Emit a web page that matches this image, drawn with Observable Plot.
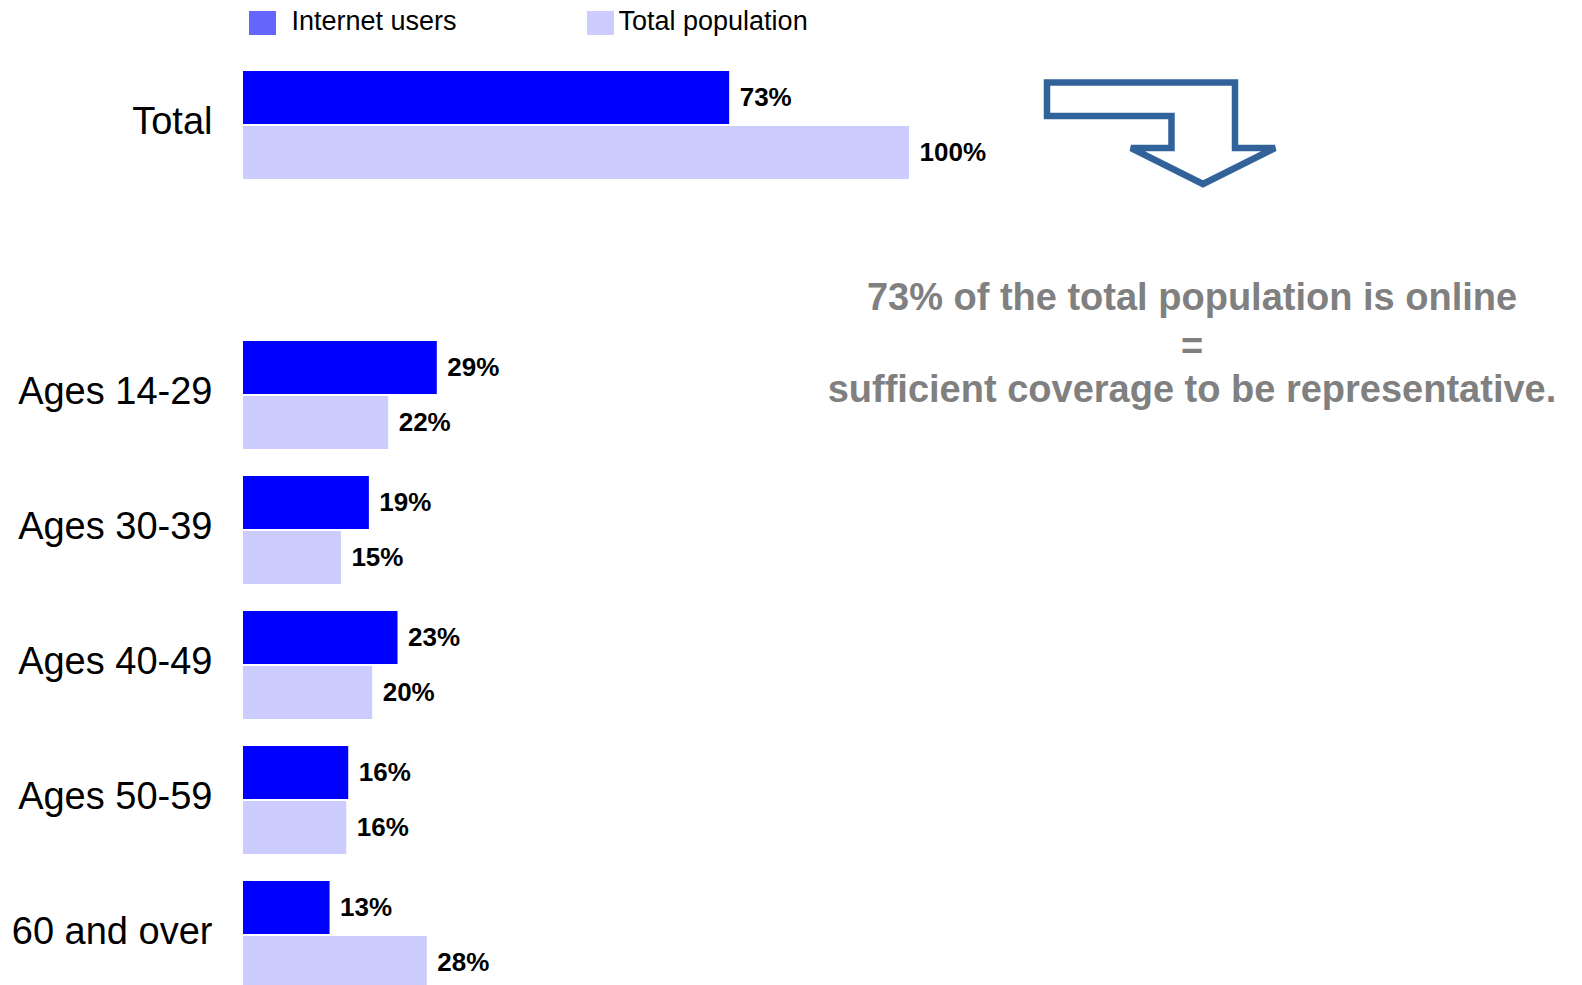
<!DOCTYPE html>
<html>
<head>
<meta charset="utf-8">
<script src="https://cdn.jsdelivr.net/npm/d3@7"></script>
<script src="https://cdn.jsdelivr.net/npm/@observablehq/plot@0.6"></script>
<style>
  html, body { margin: 0; padding: 0; overflow: hidden; background: #fff; }
  body { width: 1582px; height: 985px; position: relative; font-family: "Liberation Sans", Arial, Helvetica, sans-serif; }
  #chart { position: absolute; left: 0; top: 0; }
  #legend { position: absolute; left: 0; top: 0; width: 1582px; height: 50px; }
  .sw { position: absolute; width: 27px; height: 24px; }
  .lt { position: absolute; font-size: 27px; line-height: 30px; color: #000; white-space: nowrap; }
  #overlay { position: absolute; left: 0; top: 0; pointer-events: none; }
</style>
</head>
<body>
<div id="chart"></div>
<div id="legend"></div>
<svg id="overlay" width="1582" height="985"></svg>
<script>
// ---- data ----
const groups = ["Total", "Ages 14-29", "Ages 30-39", "Ages 40-49", "Ages 50-59", "60 and over"];
const internetUsers = [73, 29.1, 18.9, 23.2, 15.8, 13.0];
const totalPopulation = [100, 21.8, 14.7, 19.4, 15.5, 27.6];
const internetLabels = ["73%", "29%", "19%", "23%", "16%", "13%"];
const populationLabels = ["100%", "22%", "15%", "20%", "16%", "28%"];
const seriesNames = ["Internet users", "Total population"];
const seriesColors = ["#0000ff", "#ccccff"];
const legendColors = ["#6666ff", "#ccccff"];
const rowOrder = ["Total", " ", "Ages 14-29", "Ages 30-39", "Ages 40-49", "Ages 50-59", "60 and over"];
const annotationLines = ["73% of the total population is online", "=", "sufficient coverage to be representative."];

const data = groups.flatMap((g, i) => [
  {group: g, series: seriesNames[0], value: internetUsers[i], label: internetLabels[i]},
  {group: g, series: seriesNames[1], value: totalPopulation[i], label: populationLabels[i]}
]);

const plot = Plot.plot({
  width: 1582,
  height: 989,
  marginLeft: 243,
  marginRight: 673,
  marginTop: 71,
  marginBottom: 0,
  style: {fontFamily: "'Liberation Sans', Arial, Helvetica, sans-serif", background: "transparent", overflow: "visible"},
  x: {domain: [0, 100], axis: null},
  fy: {domain: rowOrder, paddingInner: 0.2, paddingOuter: 0, label: null},
  y: {domain: seriesNames, paddingInner: 0.04, paddingOuter: 0, axis: null},
  color: {domain: seriesNames, range: seriesColors},
  marks: [
    Plot.barX(data, {x: "value", y: "series", fy: "group", fill: "series"}),
    Plot.text(data, {x: "value", y: "series", fy: "group", text: "label", dx: 10, textAnchor: "start", fontWeight: "bold", fontSize: 26, fill: "#000"}),
    Plot.axisFy({anchor: "left", tickSize: 0, tickPadding: 31, fontSize: 38, dy: -4, label: null, fill: "#000"})
  ]
});
document.getElementById("chart").appendChild(plot);

// ---- legend ----
const legend = document.getElementById("legend");
const swX = [249, 587];
const txX = [291.5, 618.5];
seriesNames.forEach((name, i) => {
  const sw = document.createElement("div");
  sw.className = "sw";
  sw.style.left = swX[i] + "px";
  sw.style.top = "11px";
  sw.style.background = legendColors[i];
  legend.appendChild(sw);
  const t = document.createElement("div");
  t.className = "lt";
  t.style.left = txX[i] + "px";
  t.style.top = "6px";
  t.textContent = name;
  legend.appendChild(t);
});

// ---- annotation: arrow + text ----
const ov = d3.select("#overlay");
ov.append("path")
  .attr("d", "M1047,82.5 H1235 V148 H1275 L1203,184 L1131,148 H1171.5 V116 H1047 Z")
  .attr("fill", "none")
  .attr("stroke", "#31639a")
  .attr("stroke-width", 6.5)
  .attr("stroke-linejoin", "miter");
const baselines = [310, 359, 402];
ov.selectAll("text.ann").data(annotationLines).join("text")
  .attr("class", "ann")
  .attr("x", 1192)
  .attr("y", (d, i) => baselines[i])
  .attr("text-anchor", "middle")
  .attr("font-family", "'Liberation Sans', Arial, Helvetica, sans-serif")
  .attr("font-weight", "bold")
  .attr("font-size", 38)
  .attr("fill", "#808080")
  .text(d => d);
</script>
</body>
</html>
